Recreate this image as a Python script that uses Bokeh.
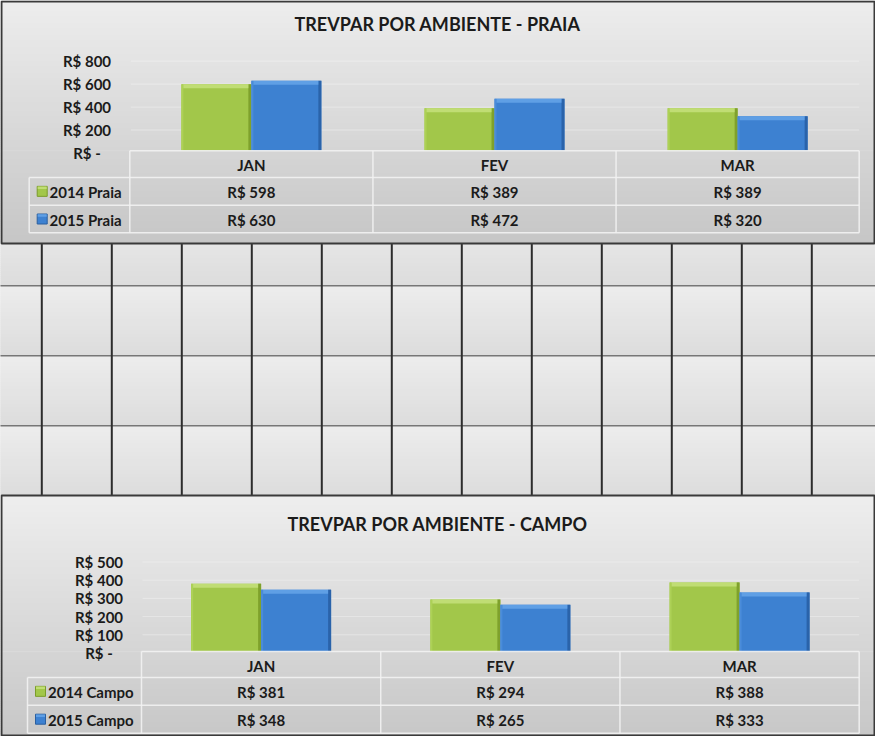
import numpy as np
from bokeh.plotting import figure
from bokeh.models import Range1d, ColumnDataSource
from bokeh.transform import dodge
from bokeh.core.properties import value
from bokeh.embed import file_html
from bokeh.resources import INLINE

# ---------------- data ----------------
months = ["JAN", "FEV", "MAR"]
praia_2014 = [598, 389, 389]
praia_2015 = [630, 472, 320]
campo_2014 = [381, 294, 388]
campo_2015 = [348, 265, 333]
praia_series = ["2014 Praia", "2015 Praia"]
campo_series = ["2014 Campo", "2015 Campo"]
praia_ticks = [0, 200, 400, 600, 800]
praia_tick_labels = ["R$ -", "R$ 200", "R$ 400", "R$ 600", "R$ 800"]
campo_ticks = [0, 100, 200, 300, 400, 500]
campo_tick_labels = ["R$ -", "R$ 100", "R$ 200", "R$ 300", "R$ 400", "R$ 500"]
praia_title = "TREVPAR POR AMBIENTE - PRAIA"
campo_title = "TREVPAR POR AMBIENTE - CAMPO"

# ---------------- layout / style ----------------
W, H = 875, 736
OX, OY = 8, 8
FONT = value("Lato")
TXT = "#1b1b1b"
GREEN = dict(body="#a2c74a", top="#c0dd74", left="#add156", right="#7f a12c".replace(" ", ""),
             key_line="#7a9c2a")
BLUE = dict(body="#3d81d1", top="#5f9fe5", left="#4a8cda", right="#2a63aa", key_line="#2a5f9f")

p = figure(width=W, height=H, x_range=Range1d(OX, OX + W), y_range=Range1d(OY + H, OY),
           output_backend="svg", toolbar_location=None, min_border=0,
           x_axis_location=None, y_axis_location=None)
p.xgrid.visible = False
p.ygrid.visible = False
p.outline_line_color = None
p.background_fill_color = "#e6e6e6"
p.border_fill_color = "#e6e6e6"


def hex2rgb(h):
    h = h.lstrip("#")
    return np.array([int(h[i:i + 2], 16) for i in (0, 2, 4)], dtype=float)


def strips(x0, x1, y0, y1, ya, yb, ca, cb, step=2.0):
    """vertical gradient strips covering [y0,y1]; colour runs ca at ya -> cb at yb"""
    edges = list(np.arange(y0, y1, step)) + [y1]
    a, b = hex2rgb(ca), hex2rgb(cb)
    tops, bots, cols = [], [], []
    for i in range(len(edges) - 1):
        t = ((edges[i] + edges[i + 1]) / 2 - ya) / (yb - ya)
        t = min(max(t, 0), 1)
        c = a + (b - a) * t
        cols.append("#%02x%02x%02x" % tuple(int(round(v)) for v in c))
        tops.append(edges[i])
        bots.append(min(edges[i + 1] + 0.6, y1))
    p.quad(left=[x0] * len(cols), right=[x1] * len(cols), top=tops, bottom=bots,
           fill_color=cols, line_color=None)


def txt(xs, ys, texts, size="15px", align="center", **kw):
    p.text(x=xs, y=ys, text=texts, text_font=FONT, text_font_style="bold",
           text_font_size=size, text_color=TXT, text_align=align,
           text_baseline="middle", **kw)


# ---------------- spreadsheet grid between the charts ----------------
row_edges = [223.3, 293.3, 363.3, 433.3, 503.3]
for i in range(len(row_edges) - 1):
    y0 = max(row_edges[i], 250)
    strips(0, 891, y0, row_edges[i + 1], row_edges[i], row_edges[i + 1], "#ededed", "#dcdcdc")
p.segment(x0=[0] * 3, x1=[891] * 3, y0=row_edges[1:4], y1=row_edges[1:4],
          line_color="#767676", line_width=1.4)
vx = [49.3 + 70 * k for k in range(13)]
p.segment(x0=vx, x1=vx, y0=[251] * len(vx), y1=[503.5] * len(vx),
          line_color="#2c2c2c", line_width=2.0)


# ---------------- chart drawing ----------------
def draw_chart(key, spec, s_a, s_b, ticks, tick_labels, names, title):
    zero, ppu = spec["zero_y"], spec["ppu"]
    L, R = spec["data_left"], spec["right"]
    C = (R - L) / len(months)
    vr, mr = "v_" + key, "m_" + key
    p.extra_y_ranges[vr] = Range1d(start=(zero - (OY + H)) / ppu, end=(zero - OY) / ppu)
    p.extra_x_ranges[mr] = Range1d(start=(OX - L) / C, end=(OX + W - L) / C)

    bx0, by0, bx1, by1 = spec["box"]
    rows = spec["rows"]
    c_top, c_bot = "#eeeeee", "#c6c6c6"
    # background above the data table
    strips(bx0, bx1, by0, rows[0], by0, by1, c_top, c_bot)

    # faint value gridlines
    gt = ticks[1:]
    p.segment(x0=[L + 1] * len(gt), x1=[R] * len(gt), y0=gt, y1=gt,
              y_range_name=vr, line_color="#f6f6f6", line_width=1.0, line_alpha=0.45)

    # bars with bevel
    bw = spec["bar_px"] / C
    sr = 3.0 / C
    sl = 2.0 / C
    band = 4.0 / ppu
    src = ColumnDataSource(dict(x=[i + 0.5 for i in range(len(months))], a=s_a, b=s_b))
    for field, off, cs in (("a", -bw / 2, GREEN), ("b", bw / 2, BLUE)):
        common = dict(source=src, x_range_name=mr, y_range_name=vr, line_color=None)
        p.vbar(x=dodge("x", off), width=bw, top=field, bottom=0, fill_color=cs["body"], **common)
        p.vbar(x=dodge("x", off - bw / 2 + sl / 2), width=sl, top=field, bottom=0,
               fill_color=cs["left"], **common)
        p.vbar(x=dodge("x", off + bw / 2 - sr / 2), width=sr, top=field, bottom=0,
               fill_color=cs["right"], **common)
        p.vbar(x=dodge("x", off - (sr - sl) / 2), width=bw - sl - sr, top=field,
               bottom=dodge(field, -band), fill_color=cs["top"], **common)

    # background of the data-table region (covers the bar feet like Excel does)
    strips(bx0, bx1, rows[0], by1, by0, by1, c_top, c_bot)

    # data table lines
    lc = dict(line_color="#f2f2f2", line_width=1.5, line_alpha=0.9)
    LL = spec["legend_left"]
    p.segment(x0=[L, LL, LL, LL], x1=[R] * 4, y0=rows, y1=rows, **lc)
    vxs = [L + C * i for i in range(len(months))] + [R]
    p.segment(x0=vxs, x1=vxs, y0=[rows[0]] * len(vxs), y1=[rows[3]] * len(vxs), **lc)
    p.segment(x0=[LL], x1=[LL], y0=[rows[1]], y1=[rows[3]], **lc)

    # title
    txt([(bx0 + bx1) / 2], [spec["title_y"]], [title], size="18px")
    # value tick labels
    txt([spec["tick_x"]] * len(ticks), ticks, tick_labels, y_range_name=vr)
    # table texts
    xc = [i + 0.5 for i in range(len(months))]
    rc = [(rows[i] + rows[i + 1]) / 2 + 1 for i in range(3)]
    txt(xc, [rc[0]] * len(months), months, x_range_name=mr)
    txt(xc, [rc[1]] * len(months), ["R$ %d" % v for v in s_a], x_range_name=mr)
    txt(xc, [rc[2]] * len(months), ["R$ %d" % v for v in s_b], x_range_name=mr)
    # legend keys
    kx = spec["key_x"]
    p.rect(x=[kx, kx], y=[rc[1] - 1, rc[2] - 1], width=10, height=10,
           fill_color=[GREEN["body"], BLUE["body"]],
           line_color=[GREEN["key_line"], BLUE["key_line"]], line_width=1)
    p.rect(x=[kx, kx], y=[rc[1] - 4.5, rc[2] - 4.5], width=9, height=2.5,
           fill_color=[GREEN["top"], BLUE["top"]], line_color=None)
    txt([spec["legend_text_x"]] * 2, [rc[1], rc[2]], names, align="left")

    # chart border (clamped into the visible canvas)
    cx0, cy0 = max(bx0, OX + 1), max(by0, OY + 1)
    cx1, cy1 = min(bx1, OX + W - 1), min(by1, OY + H - 1)
    p.quad(left=[cx0], right=[cx1], top=[cy0], bottom=[cy1], fill_color=None,
           line_color="#3a3a3a", line_width=2)


PRAIA = dict(box=(2, 2, 888, 251), title_y=31, zero_y=160.5, ppu=0.1148, tick_x=94.5,
             legend_left=36.7, data_left=137.3, right=866.7,
             rows=[158.3, 185.0, 212.7, 240.3], key_x=49.7, legend_text_x=57.0, bar_px=70)
CAMPO = dict(box=(2, 503, 888, 750), title_y=531.7, zero_y=660.5, ppu=0.182, tick_x=106.5,
             legend_left=35.0, data_left=149.0, right=866.7,
             rows=[659.0, 685.0, 712.7, 740.7], key_x=48.0, legend_text_x=55.5, bar_px=70)

draw_chart("praia", PRAIA, praia_2014, praia_2015, praia_ticks, praia_tick_labels,
           praia_series, praia_title)
draw_chart("campo", CAMPO, campo_2014, campo_2015, campo_ticks, campo_tick_labels,
           campo_series, campo_title)

open("out.html", "w").write(file_html(p, INLINE))
